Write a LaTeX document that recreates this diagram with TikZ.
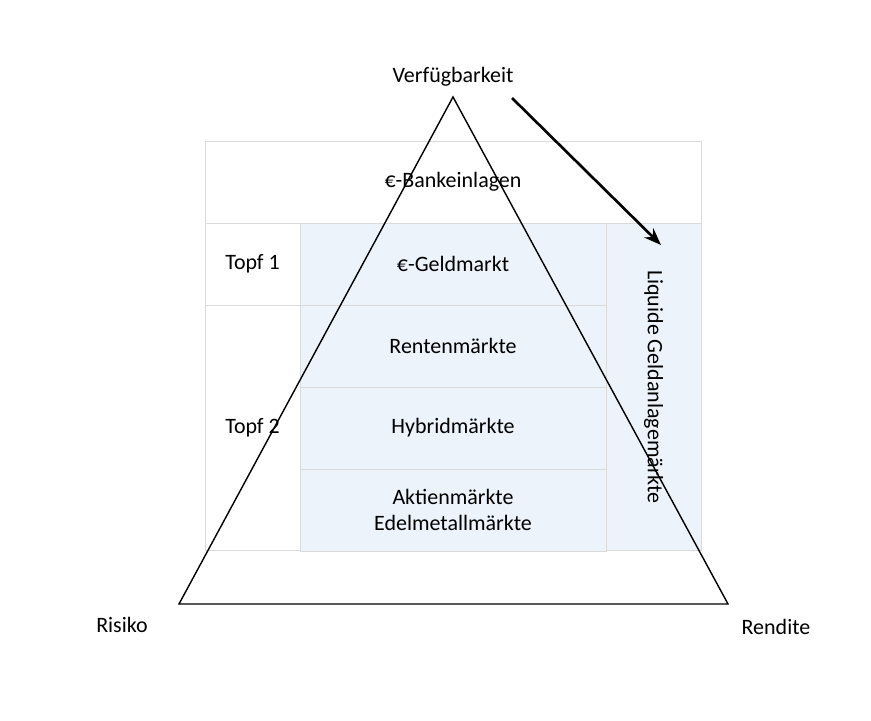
\documentclass[tikz,border=0pt]{standalone}
\usepackage{fontspec}
\setmainfont{Carlito}
\usetikzlibrary{arrows.meta, positioning}
\definecolor{cellblue}{RGB}{236,243,250}
\definecolor{cellline}{RGB}{218,218,218}
\begin{document}
\begin{tikzpicture}[
    >=Stealth,
    every node/.style={font=\fontsize{12.5}{15}\selectfont, align=center},
    cell/.style={draw=cellline, line width=0.5pt, minimum width=#1, minimum height=1.64cm, inner sep=0pt},
    cell/.default=6.12cm,
    blue/.style={fill=cellblue}
]
\useasboundingbox (0,0) rectangle (17.42,14.4);

% Cells
\node[cell=9.92cm] (bank) at (9.06,10.76) {€-Bankeinlagen};
\node[cell=1.9cm] (topf1) at (5.05,9.12) {Topf 1};
\node[cell=1.9cm, minimum height=4.9cm] (topf2) at (5.05,5.84) {Topf 2};
\node[cell, blue] (geld) at (9.06,9.12) {€-Geldmarkt};
\node[cell, blue] (rente) at (9.06,7.48) {Rentenmärkte};
\node[cell, blue] (hybrid) at (9.06,5.84) {Hybridmärkte};
\node[cell, blue] (aktie) at (9.06,4.2) {Aktienmärkte\\Edelmetallmärkte};
\node[cell=1.9cm, blue, minimum height=6.54cm] (liquide) at (13.07,6.66) {};
\node[rotate=-90] at (liquide) {Liquide Geldanlagemärkte};

% Triangle
\coordinate (apex) at (9.06,12.46);
\coordinate (links) at (3.58,2.32);
\coordinate (rechts) at (14.56,2.32);
\draw[line width=0.8pt] (apex) -- (links) -- (rechts) -- cycle;

% Labels
\node (verf) at (9.06,12.86) {Verfügbarkeit};
\node (risiko) at (2.44,1.9) {Risiko};
\node (rendite) at (15.52,1.86) {Rendite};

% Arrow
\coordinate (start) at (10.24,12.44);
\coordinate (ziel) at (13.22,9.5);
\draw[->, line width=1.5pt] (start) -- (ziel);
\end{tikzpicture}
\end{document}
